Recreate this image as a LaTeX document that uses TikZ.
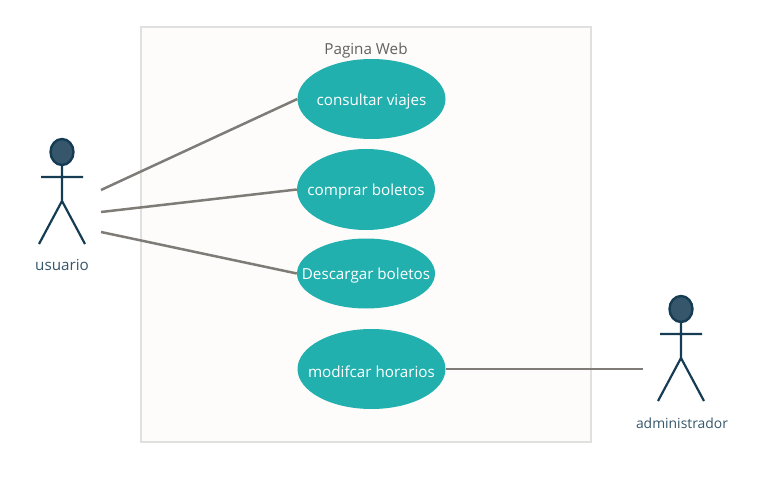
\documentclass[tikz,border=0pt]{standalone}
\usepackage{fontspec}
\setmainfont{Open Sans}
\usetikzlibrary{shapes.geometric,positioning}
\definecolor{teal1}{HTML}{22B0AF}
\definecolor{navy1}{HTML}{163C54}
\definecolor{head1}{HTML}{35566B}
\definecolor{line1}{HTML}{7F7C78}
\definecolor{sys1}{HTML}{FDFCFB}
\definecolor{sysline}{HTML}{E0E0DE}
\begin{document}
\begin{tikzpicture}[
  x=1pt,y=-1pt,
  font=\fontsize{15.2}{18}\selectfont,
  usecase/.style={ellipse,fill=teal1,inner sep=0pt,minimum height=80pt},
  uctext/.style={text=white,yshift=-2.3pt},
  assoc/.style={draw=line1,line width=2.5pt},
  actorname/.style={text=head1},
  actor/.pic={
    \draw[navy1,line width=2.4pt,fill=head1] (0,0) ellipse [x radius=11.5,y radius=13];
    \draw[navy1,line width=2.2pt] (0,13) -- (0,49) (-21,25) -- (21,25)
      (-23,92) -- (0,49) -- (23,92);
  },
]
  \useasboundingbox (0,0) rectangle (777,492);
  \node[draw=sysline,line width=2.6pt,fill=sys1,minimum width=450pt,minimum height=415pt,inner sep=0pt] (web) at (366,234.5) {};
  \node[text=black!62,below=13.5pt of web.north] (webname) {Pagina Web};

  % casos de uso
  \node[usecase,minimum width=148pt,label={[uctext]center:consultar viajes}] (consultar) at (371.5,99) {};
  \node[usecase,minimum width=138pt,minimum height=81pt,label={[uctext]center:comprar boletos}] (comprar) at (366,189.5) {};
  \node[usecase,minimum width=138pt,minimum height=70pt,label={[uctext]center:Descargar boletos}] (descargar) at (366,273.5) {};
  \node[usecase,minimum width=148pt,label={[uctext]center:modifcar horarios}] (modificar) at (371.5,369) {};

  % actores
  \pic at (62,152) {actor};
  \node[actorname] (usuario) at (62,265) {usuario};
  \pic at (681,309) {actor};
  \node[actorname,font=\fontsize{13.9}{17}\selectfont] (administrador) at (682,423) {administrador};

  \coordinate (u1) at (101,190);
  \coordinate (u2) at (101,212);
  \coordinate (u3) at (101,232);
  \coordinate (a1) at (643,369);

  \draw[assoc] (u1) -- (consultar.west);
  \draw[assoc] (u2) -- (comprar.west);
  \draw[assoc] (u3) -- (descargar.west);
  \draw[assoc] (modificar.east) -- (a1);
\end{tikzpicture}
\end{document}
